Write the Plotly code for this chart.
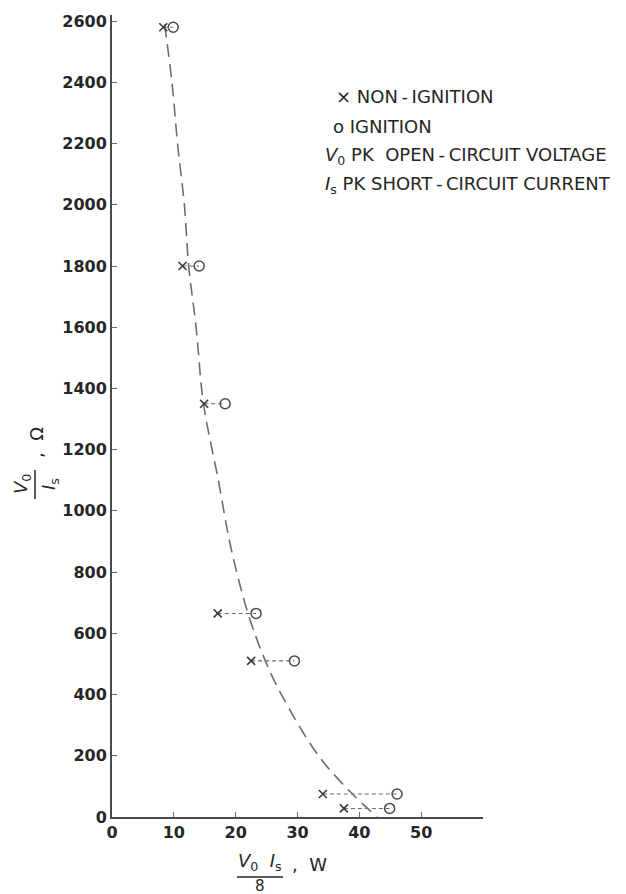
import plotly.graph_objects as go

# ---- data ----
rows_y = [2580, 1800, 1350, 665, 510, 75, 28]
non_ignition_x = [8.3, 11.4, 14.9, 17.1, 22.5, 34.1, 37.5]
ignition_x = [9.9, 14.1, 18.3, 23.3, 29.5, 46.1, 44.9]

curve_y = [2590, 2400, 2200, 2000, 1800, 1600, 1350, 1100, 883, 665, 510, 400, 200, 75, 0]
curve_x = [8.5, 9.7, 10.6, 11.7, 12.4, 13.6, 14.8, 17.2, 19.2, 22.0, 24.8, 27.4, 33.4, 38.9, 42.9]

x_ticks = [0, 10, 20, 30, 40, 50, 60]
x_tick_text = ["0", "10", "20", "30", "40", "50", ""]
y_ticks = [0, 200, 400, 600, 800, 1000, 1200, 1400, 1600, 1800, 2000, 2200, 2400, 2600]

legend_lines = [
    "× NON\u2009-\u2009IGNITION",
    "o IGNITION",
    "<i>V</i><sub>0</sub> PK  OPEN\u2009-\u2009CIRCUIT VOLTAGE",
    "<i>I</i><sub>s</sub> PK SHORT\u2009-\u2009CIRCUIT CURRENT",
]

# ---- layout geometry (pixels) ----
W, H = 626, 894
L, R, T, B = 112, 143, 15, 77
PW, PH = W - L - R, H - T - B


def px(x):
    return (x - L) / PW


def py(y):
    return (H - B - y) / PH


FONT = "DejaVu Sans, Liberation Sans, sans-serif"
INK = "#262626"

fig = go.Figure()

# connectors between non-ignition and ignition points
cx, cy = [], []
for a, b, y in zip(non_ignition_x, ignition_x, rows_y):
    cx += [a, b, None]
    cy += [y, y, None]
fig.add_trace(go.Scatter(x=cx, y=cy, mode="lines",
                         line=dict(color="#6a6a6a", width=1.1, dash="4px,3px"),
                         hoverinfo="skip", showlegend=False))

# fitted curve
fig.add_trace(go.Scatter(x=curve_x, y=curve_y, mode="lines",
                         line=dict(color="#6e6e6e", width=1.6, dash="13px,7px",
                                   shape="spline", smoothing=1.0),
                         showlegend=False))

fig.add_trace(go.Scatter(x=non_ignition_x, y=rows_y, mode="markers",
                         marker=dict(symbol="x-thin-open", size=8, color="#3a3a3a",
                                     line=dict(color="#3a3a3a", width=1.6)),
                         showlegend=False))
fig.add_trace(go.Scatter(x=ignition_x, y=rows_y, mode="markers",
                         marker=dict(symbol="circle-open", size=10, color="#4a4a4a",
                                     line=dict(color="#4a4a4a", width=1.5)),
                         showlegend=False))

axis_common = dict(showgrid=False, zeroline=False, showline=True,
                   linecolor="#4a4a4a", linewidth=2, ticks="inside",
                   ticklen=5, tickwidth=1.2, tickcolor="#6a6a6a",
                   tickfont=dict(family=FONT, size=16, color=INK, weight="bold"))

fig.update_layout(
    width=W, height=H,
    margin=dict(l=L, r=R, t=T, b=B),
    paper_bgcolor="white", plot_bgcolor="white",
    xaxis=dict(range=[0, 60], tickmode="array", tickvals=x_ticks,
               ticktext=x_tick_text, **axis_common),
    yaxis=dict(range=[0, 2620], tickmode="array", tickvals=y_ticks, **axis_common),
    showlegend=False,
)

ann = []
# legend text
leg_y = [97, 127, 156, 185]
leg_x = [334, 331, 323, 323]
for t, x, y in zip(legend_lines, leg_x, leg_y):
    ann.append(dict(text=t, x=px(x), y=py(y), xref="paper", yref="paper",
                    xanchor="left", yanchor="middle", showarrow=False,
                    font=dict(family=FONT, size=18, color=INK)))

# x-axis title (fraction)
ann.append(dict(text="<i>V</i><sub>0</sub>  <i>I</i><sub>s</sub>", x=px(260), y=py(862),
                xref="paper", yref="paper", xanchor="center", yanchor="middle",
                showarrow=False, font=dict(family=FONT, size=18, color=INK)))
ann.append(dict(text="8", x=px(260), y=py(886), xref="paper", yref="paper",
                xanchor="center", yanchor="middle", showarrow=False,
                font=dict(family=FONT, size=15, color=INK)))
ann.append(dict(text=",  W", x=px(290), y=py(864), xref="paper", yref="paper",
                xanchor="left", yanchor="middle", showarrow=False,
                font=dict(family=FONT, size=18, color=INK)))

# y-axis title (fraction, rotated)
ann.append(dict(text="<i>V</i><sub>0</sub>", x=px(22), y=py(484), xref="paper", yref="paper",
                xanchor="center", yanchor="middle", textangle=-90, showarrow=False,
                font=dict(family=FONT, size=18, color=INK)))
ann.append(dict(text="<i>I</i><sub>s</sub>", x=px(50), y=py(484), xref="paper", yref="paper",
                xanchor="center", yanchor="middle", textangle=-90, showarrow=False,
                font=dict(family=FONT, size=18, color=INK)))
ann.append(dict(text=",  Ω", x=px(36), y=py(443), xref="paper", yref="paper",
                xanchor="center", yanchor="middle", textangle=-90, showarrow=False,
                font=dict(family=FONT, size=18, color=INK)))
fig.update_layout(annotations=ann)

shapes = [
    dict(type="line", xref="paper", yref="paper", x0=px(237), x1=px(283),
         y0=py(877), y1=py(877), line=dict(color=INK, width=1.5)),
    dict(type="line", xref="paper", yref="paper", x0=px(35), x1=px(35),
         y0=py(470), y1=py(499), line=dict(color=INK, width=1.5)),
]
fig.update_layout(shapes=shapes)

fig.write_html("out.html")
